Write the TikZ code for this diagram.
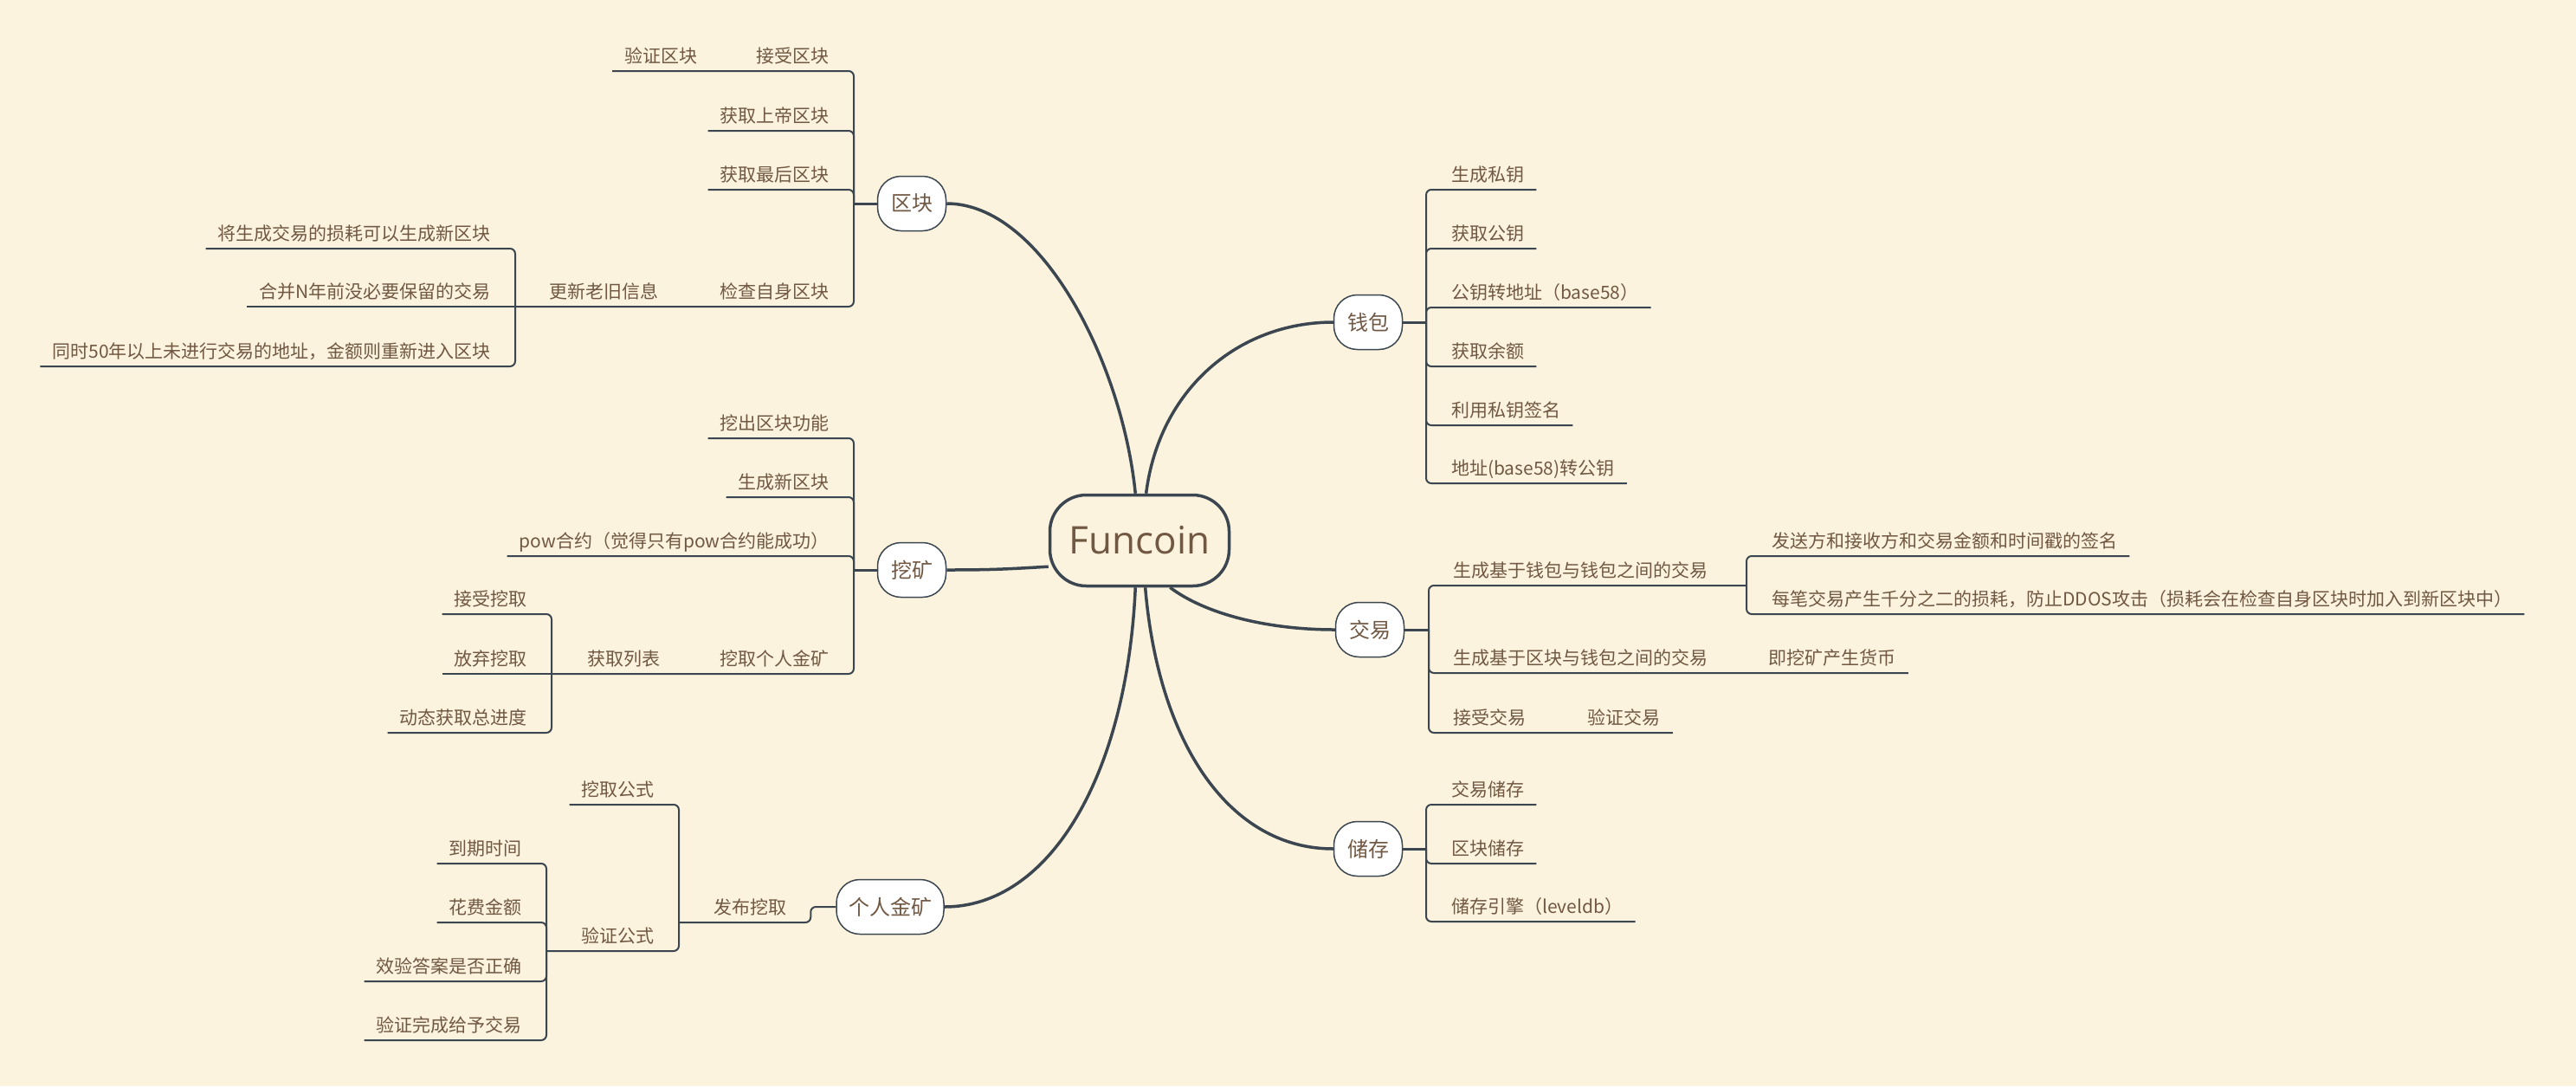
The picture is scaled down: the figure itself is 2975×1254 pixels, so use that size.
\documentclass[tikz,border=0pt]{standalone}
\usepackage{fontspec}
\setmainfont{Open Sans}
\newfontfamily\cjk{Noto Sans CJK SC}
\usepackage{tikz}
\usetikzlibrary{positioning,calc}
\definecolor{paper}{HTML}{FBF3DD}
\definecolor{ink}{HTML}{3B4650}
\definecolor{txt}{HTML}{715843}
\tikzset{
  topic/.style={font=\cjk\fontsize{21}{21}\selectfont, text=txt, inner xsep=14pt, inner ysep=0pt, text height=20pt, text depth=9pt},
  lefttopic/.style={topic, anchor=south east},
  righttopic/.style={topic, anchor=south west},
  branch/.style={draw=ink, line width=2pt, rounded corners=6pt},
  stem/.style={draw=ink, line width=3pt},
  trunk/.style={draw=ink, line width=3.5pt},
  mainbranch/.style={draw=ink, line width=1.5pt, fill=white, rounded corners=27pt, minimum height=63pt, minimum width=79pt, inner xsep=14pt, font=\cjk\fontsize{24}{24}\selectfont, text=txt},
  root/.style={draw=ink, line width=3.5pt, fill=paper, rounded corners=42pt, minimum width=207pt, minimum height=105pt, font=\fontsize{44}{44}\selectfont, text=txt}
}
\begin{document}
\begin{tikzpicture}[x=1pt,y=-1pt]
    \fill[paper] (0,0) rectangle (2975,1254);
    \useasboundingbox (0,0) rectangle (2975,1254);
    \node[root] (fc) at (1316,624) {Funcoin};

    \node[mainbranch] (qk) at (1053,235) {区块};
    \coordinate (qkj) at (986,235);
    \node[lefttopic] (qk1) at (972,82) {接受区块};
    \node[topic, left=40pt of qk1] (qk1a) {验证区块};
    \node[lefttopic] (qk2) at (972,151) {获取上帝区块};
    \node[lefttopic] (qk3) at (972,219) {获取最后区块};
    \node[lefttopic] (qk4) at (972,354) {检查自身区块};
    \node[topic, left=43pt of qk4] (qk4a) {更新老旧信息};
    \coordinate (qk4aj) at (595,354);
    \node[lefttopic] (qk4a1) at (581,287) {将生成交易的损耗可以生成新区块};
    \node[lefttopic] (qk4a2) at (581,354) {合并N年前没必要保留的交易};
    \node[lefttopic] (qk4a3) at (581,423) {同时50年以上未进行交易的地址，金额则重新进入区块};

    \node[mainbranch] (wk) at (1053,658) {挖矿};
    \coordinate (wkj) at (986,658);
    \node[lefttopic] (wk1) at (972,506) {挖出区块功能};
    \node[lefttopic] (wk2) at (972,574) {生成新区块};
    \node[lefttopic] (wk3) at (972,642) {pow合约（觉得只有pow合约能成功）};
    \node[lefttopic] (wk4) at (972,778) {挖取个人金矿};
    \node[topic, left=41pt of wk4] (wk4a) {获取列表};
    \coordinate (wk4aj) at (637,778);
    \node[lefttopic] (wk4a1) at (623,709) {接受挖取};
    \node[lefttopic] (wk4a2) at (623,778) {放弃挖取};
    \node[lefttopic] (wk4a3) at (623,846) {动态获取总进度};

    \node[mainbranch] (gr) at (1028,1047) {个人金矿};
    \node[lefttopic] (gr1) at (923,1065) {发布挖取};
    \coordinate (gr1j) at (784,1065);
    \node[lefttopic] (gr1a) at (770,929) {挖取公式};
    \node[lefttopic] (gr1b) at (770,1098) {验证公式};
    \coordinate (gr1bj) at (631,1098);
    \node[lefttopic] (gr1b1) at (617,997) {到期时间};
    \node[lefttopic] (gr1b2) at (617,1065) {花费金额};
    \node[lefttopic] (gr1b3) at (617,1133) {效验答案是否正确};
    \node[lefttopic] (gr1b4) at (617,1201) {验证完成给予交易};

    \node[mainbranch] (qb) at (1580,372) {钱包};
    \coordinate (qbj) at (1647,372);
    \node[righttopic] (qb1) at (1662,219) {生成私钥};
    \node[righttopic] (qb2) at (1662,287) {获取公钥};
    \node[righttopic] (qb3) at (1662,355) {公钥转地址（base58）};
    \node[righttopic] (qb4) at (1662,423) {获取余额};
    \node[righttopic] (qb5) at (1662,491) {利用私钥签名};
    \node[righttopic] (qb6) at (1662,558) {地址(base58)转公钥};

    \node[mainbranch] (jy) at (1582,727) {交易};
    \coordinate (jyj) at (1650,727);
    \node[righttopic] (jy1) at (1664,676) {生成基于钱包与钱包之间的交易};
    \coordinate (jy1j) at (2017,676);
    \node[righttopic] (jy1a) at (2032,642) {发送方和接收方和交易金额和时间戳的签名};
    \node[righttopic] (jy1b) at (2032,709) {每笔交易产生千分之二的损耗，防止DDOS攻击（损耗会在检查自身区块时加入到新区块中）};
    \node[righttopic] (jy2) at (1664,777) {生成基于区块与钱包之间的交易};
    \node[topic, right=42pt of jy2] (jy2a) {即挖矿产生货币};
    \node[righttopic] (jy3) at (1664,846) {接受交易};
    \node[topic, right=43pt of jy3] (jy3a) {验证交易};

    \node[mainbranch] (cc) at (1580,980) {储存};
    \coordinate (ccj) at (1647,980);
    \node[righttopic] (cc1) at (1662,929) {交易储存};
    \node[righttopic] (cc2) at (1662,997) {区块储存};
    \node[righttopic] (cc3) at (1662,1064) {储存引擎（leveldb）};

    \draw[trunk] (fc.95) .. controls +(-15,-150) and +(110,0) .. (qk.east);
    \draw[trunk] (fc.196) .. controls +(-50,3) and +(50,0) .. (wk.east);
    \draw[trunk] (fc.-95) .. controls +(-10,220) and +(120,0) .. (gr.east);
    \draw[trunk] (fc.82) .. controls +(15,-120) and +(-110,0) .. (qb.west);
    \draw[trunk] (fc.-57) .. controls +(40,30) and +(-80,0) .. (jy.west);
    \draw[trunk] (fc.-83) .. controls +(15,180) and +(-120,0) .. (cc.west);

    \draw[stem] (qk.west) -- (qkj);
    \draw[branch] (qkj) |- (qk1.south east) -- (qk1.south west) -- (qk1a.south east) -- (qk1a.south west);
    \draw[branch] (qkj) |- (qk2.south east) -- (qk2.south west);
    \draw[branch] (qkj) |- (qk3.south east) -- (qk3.south west);
    \draw[branch] (qkj) |- (qk4.south east) -- (qk4.south west) -- (qk4a.south east) -- (qk4a.south west) -- (qk4aj);
    \draw[branch] (qk4aj) |- (qk4a1.south east) -- (qk4a1.south west);
    \draw[branch] (qk4aj) -- (qk4a2.south east) -- (qk4a2.south west);
    \draw[branch] (qk4aj) |- (qk4a3.south east) -- (qk4a3.south west);

    \draw[stem] (wk.west) -- (wkj);
    \draw[branch] (wkj) |- (wk1.south east) -- (wk1.south west);
    \draw[branch] (wkj) |- (wk2.south east) -- (wk2.south west);
    \draw[branch] (wkj) |- (wk3.south east) -- (wk3.south west);
    \draw[branch] (wkj) |- (wk4.south east) -- (wk4.south west) -- (wk4a.south east) -- (wk4a.south west) -- (wk4aj);
    \draw[branch] (wk4aj) |- (wk4a1.south east) -- (wk4a1.south west);
    \draw[branch] (wk4aj) -- (wk4a2.south east) -- (wk4a2.south west);
    \draw[branch] (wk4aj) |- (wk4a3.south east) -- (wk4a3.south west);

    \draw[branch] (gr.west) -- ++(-29,0) |- (gr1.south east) -- (gr1.south west) -- (gr1j);
    \draw[branch] (gr1j) |- (gr1a.south east) -- (gr1a.south west);
    \draw[branch] (gr1j) |- (gr1b.south east) -- (gr1b.south west) -- (gr1bj);
    \draw[branch] (gr1bj) |- (gr1b1.south east) -- (gr1b1.south west);
    \draw[branch] (gr1bj) |- (gr1b2.south east) -- (gr1b2.south west);
    \draw[branch] (gr1bj) |- (gr1b3.south east) -- (gr1b3.south west);
    \draw[branch] (gr1bj) |- (gr1b4.south east) -- (gr1b4.south west);

    \draw[stem] (qb.east) -- (qbj);
    \draw[branch] (qbj) |- (qb1.south west) -- (qb1.south east);
    \draw[branch] (qbj) |- (qb2.south west) -- (qb2.south east);
    \draw[branch] (qbj) |- (qb3.south west) -- (qb3.south east);
    \draw[branch] (qbj) |- (qb4.south west) -- (qb4.south east);
    \draw[branch] (qbj) |- (qb5.south west) -- (qb5.south east);
    \draw[branch] (qbj) |- (qb6.south west) -- (qb6.south east);

    \draw[stem] (jy.east) -- (jyj);
    \draw[branch] (jyj) |- (jy1.south west) -- (jy1.south east) -- (jy1j);
    \draw[branch] (jy1j) |- (jy1a.south west) -- (jy1a.south east);
    \draw[branch] (jy1j) |- (jy1b.south west) -- (jy1b.south east);
    \draw[branch] (jyj) |- (jy2.south west) -- (jy2.south east) -- (jy2a.south west) -- (jy2a.south east);
    \draw[branch] (jyj) |- (jy3.south west) -- (jy3.south east) -- (jy3a.south west) -- (jy3a.south east);

    \draw[stem] (cc.east) -- (ccj);
    \draw[branch] (ccj) |- (cc1.south west) -- (cc1.south east);
    \draw[branch] (ccj) |- (cc2.south west) -- (cc2.south east);
    \draw[branch] (ccj) |- (cc3.south west) -- (cc3.south east);
\end{tikzpicture}
\end{document}
